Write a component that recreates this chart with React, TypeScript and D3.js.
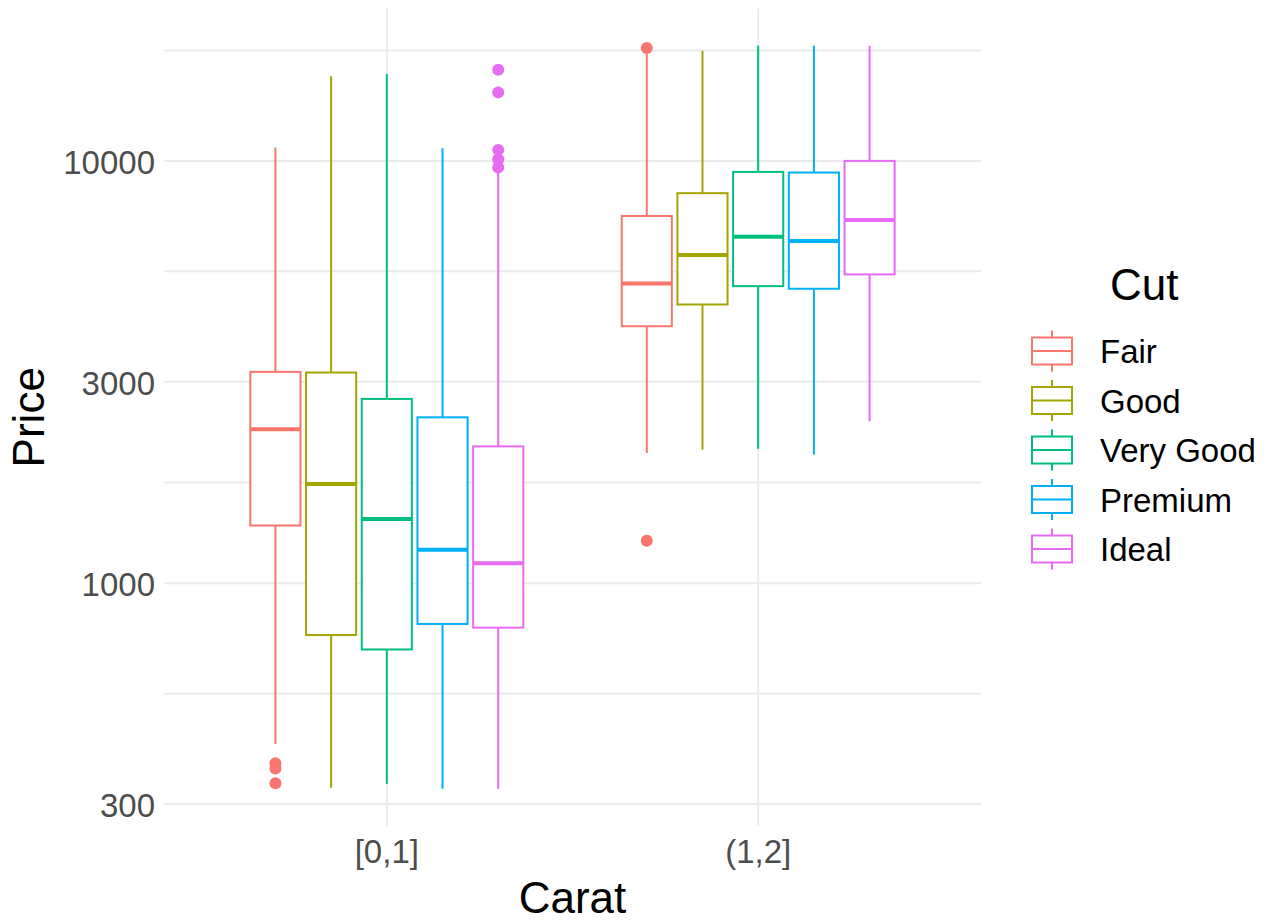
// boxplot of diamond price by carat bin and cut, log y axis
import * as d3 from 'd3';

const carats = ['[0,1]', '(1,2]'];
const cuts = ['Fair', 'Good', 'Very Good', 'Premium', 'Ideal'];
const cutColors = ['#F8766D', '#A3A500', '#00BF7D', '#00B0F6', '#E76BF3'];

// one row per carat bin, one value per cut
const lowerWhisker = [
  [416, 328, 335, 326, 326],
  [2034, 2071, 2082, 2015, 2417],
];
const q1 = [
  [1370, 754, 697, 801, 785],
  [4060, 4571, 5052, 4981, 5386],
];
const medians = [
  [2314, 1717, 1420, 1200, 1115],
  [5128, 5984, 6617, 6459, 7244],
];
const q3 = [
  [3166, 3155, 2732, 2471, 2109],
  [7406, 8387, 9419, 9386, 10000],
];
const upperWhisker = [
  [10760, 15860, 16060, 10720, 9600],
  [17900, 18230, 18745, 18745, 18745],
];
const outliers = [
  [[375, 364, 336], [], [], [], [16440, 14530, 10620, 10090, 9645]],
  [[18510, 1260], [], [], [], []],
];

const yBreaks = [300, 1000, 3000, 10000];

export default function App() {
  const width = 1274;
  const height = 923;
  const left = 164;
  const right = 981;
  const top = 8.5;
  const bottom = 826;
  const font = 'Liberation Sans, Arial, Helvetica, sans-serif';

  // ggplot-like 5% expansion in log space
  const all = [...lowerWhisker.flat(), ...upperWhisker.flat(), ...outliers.flat(2)];
  const lo = Math.log10(d3.min(all));
  const hi = Math.log10(d3.max(all));
  const pad = (hi - lo) * 0.05;
  const y = d3.scaleLog().domain([10 ** (lo - pad), 10 ** (hi + pad)]).range([bottom, top]);
  const x = d3.scaleLinear().domain([0.4, 2.6]).range([left, right]);

  // minor breaks at the midpoints (log space), extended like ggplot does
  const lb = yBreaks.map(Math.log10);
  const bd = lb[1] - lb[0];
  const ext = [lb[0] - bd, ...lb, lb[lb.length - 1] + bd];
  const minor = d3.pairs(ext).map(([a, b]) => 10 ** ((a + b) / 2))
    .filter(v => v >= y.domain()[0] && v <= y.domain()[1]);

  const slot = 0.15;
  const boxW = x(0.135) - x(0);
  const grid = '#EBEBEB';

  const boxes = [];
  carats.forEach((c, i) => {
    cuts.forEach((cut, j) => {
      const cx = x(i + 1 + (j - 2) * slot);
      const col = cutColors[j];
      boxes.push(
        <g key={c + cut}>
          <line x1={cx} x2={cx} y1={y(upperWhisker[i][j])} y2={y(q3[i][j])} stroke={col} strokeWidth={2} />
          <line x1={cx} x2={cx} y1={y(q1[i][j])} y2={y(lowerWhisker[i][j])} stroke={col} strokeWidth={2} />
          <rect x={cx - boxW / 2} width={boxW} y={y(q3[i][j])} height={y(q1[i][j]) - y(q3[i][j])}
            fill="white" stroke={col} strokeWidth={2} />
          <line x1={cx - boxW / 2} x2={cx + boxW / 2} y1={y(medians[i][j])} y2={y(medians[i][j])} stroke={col} strokeWidth={4} />
          {outliers[i][j].map((v, k) => (
            <circle key={k} cx={cx} cy={y(v)} r={6} fill={col} />
          ))}
        </g>
      );
    });
  });

  const legendX = 1032;
  const legendY0 = 351;
  const legendStep = 49.5;

  return (
    <svg width={width} height={height} style={{ position: 'absolute', left: 0, top: 0, background: 'white' }}>
      {/* grid */}
      {minor.map(v => (
        <line key={'m' + v} x1={left} x2={right} y1={y(v)} y2={y(v)} stroke={grid} strokeWidth={2} />
      ))}
      {yBreaks.map(v => (
        <line key={'M' + v} x1={left} x2={right} y1={y(v)} y2={y(v)} stroke={grid} strokeWidth={2} />
      ))}
      {carats.map((c, i) => (
        <line key={c} x1={x(i + 1)} x2={x(i + 1)} y1={top} y2={bottom} stroke={grid} strokeWidth={2} />
      ))}

      {boxes}

      {/* axes text */}
      {yBreaks.map(v => (
        <text key={'t' + v} x={155} y={y(v) + 13} textAnchor="end" fontFamily={font} fontSize={33} fill="#4D4D4D">
          {v}
        </text>
      ))}
      {carats.map((c, i) => (
        <text key={'x' + c} x={x(i + 1)} y={863} textAnchor="middle" fontFamily={font} fontSize={33} fill="#4D4D4D">
          {c}
        </text>
      ))}
      <text x={(left + right) / 2} y={913} textAnchor="middle" fontFamily={font} fontSize={44} fill="black">Carat</text>
      <text transform={`translate(44,${(top + bottom) / 2}) rotate(-90)`} textAnchor="middle" fontFamily={font} fontSize={44} fill="black">Price</text>

      {/* legend */}
      <text x={1110} y={300} fontFamily={font} fontSize={44} fill="black">Cut</text>
      {cuts.map((cut, j) => {
        const cy = legendY0 + j * legendStep;
        const col = cutColors[j];
        return (
          <g key={'l' + cut}>
            <line x1={legendX + 20} x2={legendX + 20} y1={cy - 20.5} y2={cy + 20.5} stroke={col} strokeWidth={2} />
            <rect x={legendX} y={cy - 13.5} width={40} height={27} fill="white" stroke={col} strokeWidth={2} />
            <line x1={legendX} x2={legendX + 40} y1={cy} y2={cy} stroke={col} strokeWidth={2} />
            <text x={1100} y={cy + 12} fontFamily={font} fontSize={33} fill="black">{cut}</text>
          </g>
        );
      })}
    </svg>
  );
}
